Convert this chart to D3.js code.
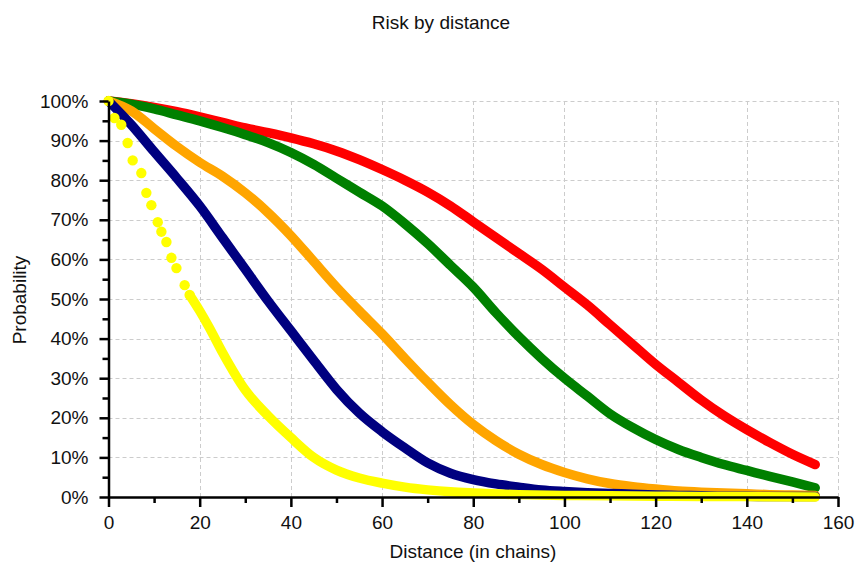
<!DOCTYPE html>
<html>
<head>
<meta charset="utf-8">
<script src="https://cdn.jsdelivr.net/npm/d3@7/dist/d3.min.js"></script>
<style>
  body { margin: 0; background: #fff; }
  svg { display: block; font-family: "Liberation Sans", Arial, sans-serif; }
</style>
</head>
<body>
<div id="chart"></div>
<script>
// distance in chains, probability in percent
const distance = [0, 5, 10, 15, 20, 25, 30, 35, 40, 45, 50, 55, 60, 65, 70, 75,
                  80, 85, 90, 95, 100, 105, 110, 115, 120, 125, 130, 135, 140, 145, 150, 155];

const redRisk = [100, 99.3, 98.4, 97.3, 96, 94.6, 93.2, 92, 90.7, 89.2, 87.4, 85.2, 82.7, 80, 77, 73.5,
                 69.5, 65.5, 61.5, 57.5, 53, 48.5, 43.5, 38.5, 33.5, 29, 24.5, 20.5, 17, 13.8, 10.8, 8.2];
const greenRisk = [100, 99.2, 98, 96.5, 95, 93.3, 91.5, 89.5, 87, 84, 80.5, 77, 73.5, 69, 64, 58.5,
                   53, 46.5, 40.5, 35, 30, 25.5, 21, 17.5, 14.5, 12, 10, 8.2, 6.7, 5.2, 3.8, 2.3];
const orangeRisk = [100, 97.5, 93, 88.5, 84.5, 81, 76.8, 71.8, 66, 59.5, 53, 47, 41.2, 35, 29, 23.3,
                    18.3, 14.2, 10.8, 8.2, 6.2, 4.6, 3.4, 2.6, 2, 1.5, 1.2, 1, 0.8, 0.6, 0.5, 0.4];
const navyRisk = [100, 94, 87.2, 80.5, 73.5, 65.5, 57.5, 49.5, 42, 34.5, 27.2, 21.2, 16.5, 12.4, 8.6, 6,
                  4.4, 3.3, 2.5, 1.8, 1.4, 1.1, 0.9, 0.7, 0.5, 0.4, 0.3, 0.2, 0.2, 0.1, 0.1, 0.1];

// the yellow series is sampled more finely near the start
const yellowDistance = [0, 1.3, 2.8, 4.2, 5.3, 7.2, 8.3, 9.4, 10.8, 11.6, 12.7, 13.8, 14.9, 16.7, 17.8,
                        20, 22, 25, 30, 35, 40, 45, 50, 55, 60, 65, 70, 75, 80, 90, 100, 110, 120, 130, 140, 155];
const yellowRisk = [100, 95.7, 94, 89.4, 85, 81.8, 76.8, 73.7, 69.4, 67, 64.4, 60.4, 57.8, 53.5, 51,
                    47, 43, 36.5, 27, 20.5, 15, 10, 6.8, 4.8, 3.5, 2.5, 1.8, 1.3, 1, 0.6, 0.4, 0.3, 0.2, 0.1, 0.1, 0];

const xTicks = [0, 20, 40, 60, 80, 100, 120, 140, 160];
const yTicks = [0, 10, 20, 30, 40, 50, 60, 70, 80, 90, 100];

(() => {
  const series = [
    { color: "#ff0000", xs: distance, ys: redRisk, beadsUntil: -1 },
    { color: "#008000", xs: distance, ys: greenRisk, beadsUntil: -1 },
    { color: "#ffa500", xs: distance, ys: orangeRisk, beadsUntil: -1 },
    { color: "#000080", xs: distance, ys: navyRisk, beadsUntil: -1 },
    { color: "#ffff00", xs: yellowDistance, ys: yellowRisk, beadsUntil: 17.8 }
  ].map(s => ({ ...s, points: s.xs.map((d, i) => ({ d, p: s.ys[i] })) }));

  const width = 855, height = 567;
  const plot = { left: 108.5, right: 838, top: 101, bottom: 497 };
  const fontSize = "19px";

  const svg = d3.select("#chart").append("svg")
    .attr("width", width)
    .attr("height", height);

  const x = d3.scaleLinear().domain([0, 160]).range([plot.left, plot.right]);
  const y = d3.scaleLinear().domain([0, 100]).range([plot.bottom, plot.top]);

  // title
  svg.append("text")
    .attr("x", 441).attr("y", 29)
    .attr("text-anchor", "middle")
    .attr("fill", "#111")
    .style("font-size", fontSize)
    .text("Risk by distance");

  // dashed grid
  const grid = svg.append("g")
    .attr("stroke", "#cccccc")
    .attr("stroke-width", 1)
    .attr("stroke-dasharray", "4,3");
  grid.selectAll(".gx").data(xTicks.slice(1)).enter().append("line")
    .attr("x1", d => Math.round(x(d)) + 0.5).attr("x2", d => Math.round(x(d)) + 0.5)
    .attr("y1", plot.top).attr("y2", plot.bottom);
  grid.selectAll(".gy").data(yTicks.slice(1)).enter().append("line")
    .attr("x1", plot.left).attr("x2", plot.right)
    .attr("y1", d => Math.round(y(d)) + 0.5).attr("y2", d => Math.round(y(d)) + 0.5);

  // curves: thick marker bands
  const line = d3.line()
    .x(d => x(d.d))
    .y(d => y(d.p))
    .curve(d3.curveMonotoneX);

  const marks = svg.append("g");
  series.forEach(s => {
    const g = marks.append("g");
    g.append("path")
      .datum(s.points.filter(pt => pt.d >= s.beadsUntil))
      .attr("fill", "none")
      .attr("stroke", s.color)
      .attr("stroke-width", 9.5)
      .attr("stroke-linejoin", "round")
      .attr("stroke-linecap", "round")
      .attr("d", line);
    g.selectAll("circle")
      .data(s.points.filter(pt => pt.d <= s.beadsUntil))
      .enter().append("circle")
      .attr("cx", d => x(d.d))
      .attr("cy", d => y(d.p))
      .attr("r", 5.2)
      .attr("fill", s.color);
  });

  // axes
  const yAxis = svg.append("g")
    .attr("transform", `translate(${plot.left},0)`)
    .call(d3.axisLeft(y).tickValues(yTicks).tickFormat(d => d + "%").tickSize(9).tickPadding(11).tickSizeOuter(0));
  const yMinor = svg.append("g")
    .attr("transform", `translate(${plot.left},0)`)
    .call(d3.axisLeft(y).tickValues(d3.range(5, 100, 10)).tickFormat("").tickSize(6).tickSizeOuter(0));

  const xAxis = svg.append("g")
    .attr("transform", `translate(0,${plot.bottom})`)
    .call(d3.axisBottom(x).tickValues(xTicks).tickSize(10).tickPadding(9).tickSizeOuter(0));
  const xMinor = svg.append("g")
    .attr("transform", `translate(0,${plot.bottom})`)
    .call(d3.axisBottom(x).tickValues(d3.range(10, 160, 20)).tickFormat("").tickSize(6).tickSizeOuter(0));

  yMinor.select(".domain").remove();
  xMinor.select(".domain").remove();
  [yAxis, xAxis, yMinor, xMinor].forEach(a => {
    a.selectAll("line").attr("stroke", "#000").attr("stroke-width", 2.5);
    a.selectAll(".domain").attr("stroke", "#000").attr("stroke-width", 2.5);
    a.selectAll("text").attr("fill", "#111").style("font-size", fontSize)
      .style("font-family", "\"Liberation Sans\", Arial, sans-serif");
  });

  // axis titles
  svg.append("text")
    .attr("x", 473).attr("y", 558)
    .attr("text-anchor", "middle")
    .attr("fill", "#111")
    .style("font-size", fontSize)
    .text("Distance (in chains)");

  svg.append("text")
    .attr("transform", "translate(26,300) rotate(-90)")
    .attr("text-anchor", "middle")
    .attr("fill", "#111")
    .style("font-size", fontSize)
    .text("Probability");
})();
</script>
</body>
</html>
